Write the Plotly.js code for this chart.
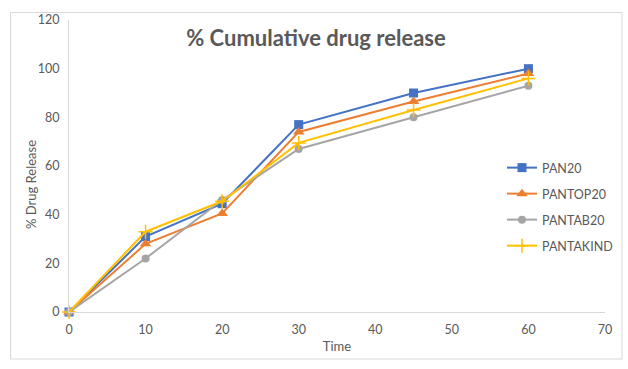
<!DOCTYPE html>
<html><head><meta charset="utf-8">
<script src="https://cdn.plot.ly/plotly-3.0.1.min.js"></script>
<style>html,body{margin:0;padding:0;background:#fff}#c{width:628px;height:369px}</style>
</head><body><div id="c"></div>
<script>
const time = [0, 10, 20, 30, 45, 60];
const seriesNames = ["PAN20", "PANTOP20", "PANTAB20", "PANTAKIND"];
const pan20 = [0, 31, 44.5, 77, 90, 100];
const pantop20 = [0, 28, 40.5, 74, 86.5, 98];
const pantab20 = [0, 22, 46, 67, 80, 93];
const pantakind = [0, 33, 45.5, 69.5, 83, 96];
const xTicks = [0, 10, 20, 30, 40, 50, 60, 70];
const yTicks = [0, 20, 40, 60, 80, 100, 120];

const colors = ["#4472C4", "#ED7D31", "#A5A5A5", "#FFC000"];
const symbols = ["square", "triangle-up", "circle", "cross-thin"];
const sizes = [9, 10, 8, 10];
const values = [pan20, pantop20, pantab20, pantakind];
const font = "Lato, 'Open Sans', sans-serif";
const legendNames = ["legend", "legend2", "legend3", "legend4"];
const legendRows = [168, 194, 220, 246];

const traces = values.map((v, i) => ({
  x: time, y: v, name: seriesNames[i], type: "scatter", mode: "lines+markers",
  legend: legendNames[i], cliponaxis: false,
  line: {color: colors[i], width: 2},
  marker: {color: colors[i], symbol: symbols[i], size: sizes[i],
           line: {color: colors[i], width: i === 3 ? 1.5 : 0}}
}));

const layout = {
  width: 628, height: 369,
  margin: {l: 69, r: 23, t: 20, b: 57, autoexpand: false},
  paper_bgcolor: "#fff", plot_bgcolor: "#fff",
  font: {family: font, color: "#595959", size: 12.5},
  title: {text: "<b>% Cumulative drug release</b>", x: 316 / 628, xref: "container", xanchor: "center",
          y: 1 - 38 / 369, yref: "container", yanchor: "middle",
          font: {family: font, size: 22, color: "#595959"}},
  xaxis: {range: [0, 70], tickvals: xTicks, ticktext: xTicks.map(String), showgrid: false, zeroline: false,
          showline: true, linecolor: "#D9D9D9", linewidth: 1, ticks: "", ticklen: 0, ticklabelstandoff: 6,
          automargin: false,
          title: {text: "Time", font: {size: 13, color: "#595959"}, standoff: 5},
          tickfont: {size: 12.5, color: "#595959"}},
  yaxis: {range: [0, 120], tickvals: yTicks, ticktext: yTicks.map(String), showgrid: false, zeroline: false,
          showline: true, linecolor: "#D9D9D9", linewidth: 1, ticks: "", ticklen: 0, ticklabelstandoff: 6,
          automargin: false,
          tickfont: {size: 12.5, color: "#595959"}},
  annotations: [{text: "% Drug Release", textangle: -90, xref: "paper", yref: "paper",
                 x: (31 - 69) / 536, y: (312 - 185) / 292, xanchor: "center", yanchor: "middle",
                 showarrow: false, font: {size: 13, color: "#595959"}}],
  shapes: [{type: "rect", xref: "paper", yref: "paper",
            x0: (10.5 - 69) / 536, x1: (622 - 69) / 536,
            y0: (312 - 359) / 292, y1: (312 - 12.5) / 292,
            line: {color: "#D9D9D9", width: 1}, fillcolor: "rgba(0,0,0,0)", layer: "below"}],
  showlegend: true
};
legendNames.forEach((ln, i) => {
  layout[ln] = {x: 502 / 628, xref: "container", xanchor: "left",
                y: 1 - legendRows[i] / 369, yref: "container", yanchor: "middle",
                bgcolor: "rgba(0,0,0,0)", font: {size: 12.5, color: "#595959"}, itemwidth: 30};
});
Plotly.newPlot("c", traces, layout, {displayModeBar: false, staticPlot: true});
</script></body></html>
